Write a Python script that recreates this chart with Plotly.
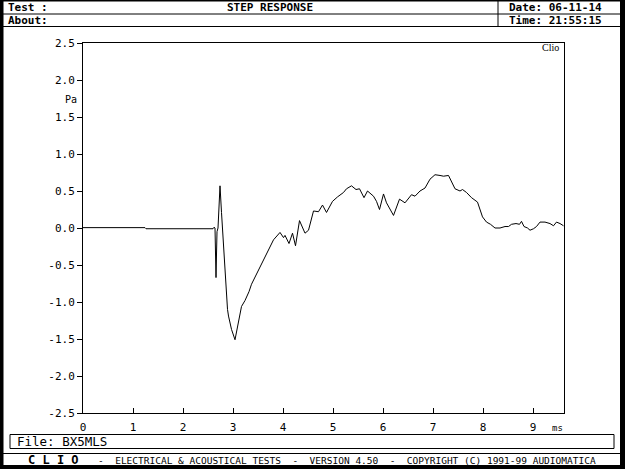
import plotly.graph_objects as go

# ---- data (time in ms, pressure in Pa) ----
time_ms = [0.0, 1.24, 1.26, 2.58, 2.60, 2.62, 2.64, 2.66, 2.68, 2.70, 2.74,
           2.77, 2.81, 2.85, 2.89, 2.91, 2.97, 3.04, 3.11, 3.17, 3.24, 3.32,
           3.37, 3.54, 3.62, 3.71, 3.81, 3.94, 4.01, 4.04, 4.12, 4.19, 4.25,
           4.33, 4.44, 4.51, 4.61, 4.71, 4.79, 4.87, 4.99, 5.09, 5.21, 5.27,
           5.37, 5.46, 5.53, 5.62, 5.69, 5.81, 5.87, 5.93, 6.01, 6.07, 6.21,
           6.33, 6.44, 6.57, 6.64, 6.74, 6.84, 6.94, 7.04, 7.14, 7.21, 7.31,
           7.37, 7.44, 7.54, 7.59, 7.67, 7.77, 7.89, 7.94, 7.99, 8.07, 8.15,
           8.24, 8.34, 8.44, 8.51, 8.57, 8.66, 8.73, 8.77, 8.82, 8.89, 8.94,
           9.01, 9.07, 9.14, 9.24, 9.34, 9.41, 9.47, 9.54, 9.61]
pressure_pa = [0.005, 0.005, -0.01, -0.01, -0.01, 0.01, 0.0, -0.67, -0.05, 0.0, 0.57,
               0.21, -0.25, -0.70, -1.10, -1.19, -1.37, -1.51, -1.28, -1.06, -0.98, -0.86,
               -0.76, -0.52, -0.43, -0.29, -0.16, -0.06, -0.13, -0.10, -0.21, -0.07, -0.24,
               0.10, -0.07, -0.03, 0.23, 0.22, 0.31, 0.21, 0.36, 0.42, 0.48, 0.53,
               0.57, 0.52, 0.53, 0.41, 0.50, 0.43, 0.36, 0.25, 0.46, 0.34, 0.17,
               0.39, 0.34, 0.45, 0.43, 0.50, 0.54, 0.66, 0.72, 0.71, 0.70, 0.71,
               0.63, 0.53, 0.50, 0.52, 0.48, 0.41, 0.35, 0.25, 0.15, 0.08, 0.05,
               0.00, 0.00, 0.02, 0.02, 0.05, 0.06, 0.05, 0.09, 0.02, 0.00, -0.03,
               -0.01, 0.02, 0.08, 0.08, 0.06, 0.03, 0.08, 0.06, 0.03]

x_ticks = [0, 1, 2, 3, 4, 5, 6, 7, 8, 9]
y_ticks = [2.5, 2.0, 1.5, 1.0, 0.5, 0.0, -0.5, -1.0, -1.5, -2.0, -2.5]
y_tick_labels = ["2.5", "2.0", "1.5", "1.0", "0.5", "0.0", "-0.5", "-1.0", "-1.5", "-2.0", "-2.5"]

title_text = "STEP RESPONSE"
test_text = "Test :"
about_text = "About:"
date_text = "Date: 06-11-14"
time_text = "Time: 21:55:15"
file_text = "File: BX5MLS"
clio_text = "C L I O"
footer_text = "-  ELECTRICAL & ACOUSTICAL TESTS  -  VERSION 4.50  -  COPYRIGHT (C) 1991-99 AUDIOMATICA"

W, H = 625, 469
L, R, T, B = 83, 564, 43, 413


def px(x):
    return (x - L) / (R - L)


def py(y):
    return (B - y) / (B - T)


MONO = "DejaVu Sans Mono"

fig = go.Figure()
fig.add_trace(go.Scatter(x=time_ms, y=pressure_pa, mode="lines",
                         line=dict(color="black", width=1), showlegend=False,
                         hoverinfo="skip"))

shapes = []


def rect(x0, y0, x1, y1, fill=None, lw=1):
    shapes.append(dict(type="rect", xref="paper", yref="paper",
                       x0=px(x0), x1=px(x1), y0=py(y0), y1=py(y1),
                       line=dict(color="black", width=lw if fill is None else 0),
                       fillcolor=fill if fill else "rgba(0,0,0,0)", layer="above"))


def line(x0, y0, x1, y1, lw=1):
    shapes.append(dict(type="line", xref="paper", yref="paper",
                       x0=px(x0), x1=px(x1), y0=py(y0), y1=py(y1),
                       line=dict(color="black", width=lw), layer="above"))


# outer black border
rect(0, 0, 3.5, H, fill="black")
rect(620, 0, W, H, fill="black")
rect(0, 465, W, H, fill="black")
rect(0, 0, W, 1.5, fill="black")
# header lines
line(3, 14, 620, 14)
line(3, 26.5, 620, 26.5)
line(498, 0, 498, 26.5)
# file box
rect(10, 434.5, 614, 448.5)
# bottom bar line
line(3, 453.5, 620, 453.5)

ann = []


def text(x, y, s, size=12, bold=True, anchor="left", family=MONO):
    ann.append(dict(xref="paper", yref="paper", x=px(x), y=py(y), text=("<b>%s</b>" % s) if bold else s,
                    showarrow=False, xanchor=anchor, yanchor="middle", borderpad=0,
                    font=dict(family=family, size=size, color="black")))


text(7, 7, test_text, size=11)
text(270, 7, title_text, size=11, anchor="center")
text(508, 7, date_text, size=11)
text(7, 20.5, about_text, size=11)
text(508, 20.5, time_text, size=11)
text(16, 441.5, file_text, size=12.5, bold=False)
text(27, 460, clio_text, size=12)
text(97, 460, footer_text, size=9.5, bold=False)
text(71, 99, "Pa", size=10, bold=False, anchor="center")
text(557, 428, "ms", size=9, bold=False, anchor="center")
text(550, 48, "Clio", size=10, bold=False, anchor="center", family="Liberation Serif")

fig.update_layout(
    width=W, height=H,
    margin=dict(l=L, r=W - R, t=T, b=H - B, pad=0),
    paper_bgcolor="white", plot_bgcolor="white",
    shapes=shapes, annotations=ann,
    xaxis=dict(range=[0, (R - L) / 50.0], tickvals=x_ticks, ticktext=[str(v) for v in x_ticks],
               ticks="inside", ticklen=5, tickcolor="black", showgrid=False, zeroline=False,
               showline=True, linecolor="black", linewidth=1, mirror=True,
               tickfont=dict(family=MONO, size=11, color="black"), ticklabelstandoff=4),
    yaxis=dict(range=[-2.5, 2.5], tickvals=y_ticks, ticktext=y_tick_labels,
               ticks="outside", ticklen=5, tickcolor="black", showgrid=False, zeroline=False,
               showline=True, linecolor="black", linewidth=1, mirror=True,
               tickfont=dict(family=MONO, size=11, color="black")),
)

fig.write_html("out.html", config={"displayModeBar": False},
               post_script="document.body.style.margin='0px';document.body.style.overflow='hidden';")
